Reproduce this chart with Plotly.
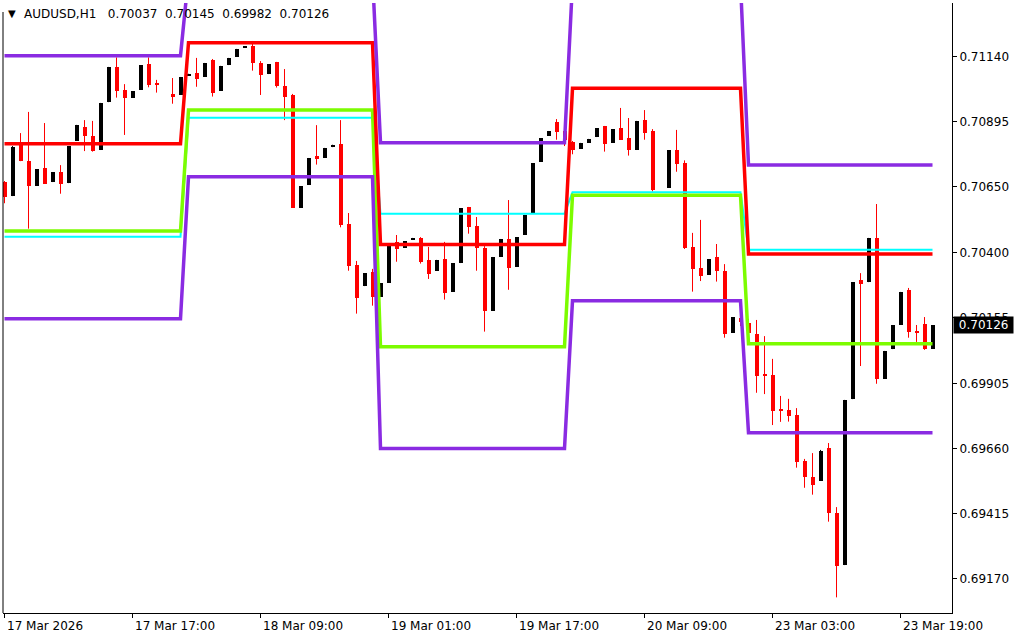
import plotly.graph_objects as go

# ---------------- data ----------------
symbol_header = "AUDUSD,H1\u00a0\u00a0\u00a00.70037\u00a0\u00a00.70145\u00a0\u00a00.69982\u00a0\u00a00.70126"
last_price = 0.70126

time_labels = ["17 Mar 2026", "17 Mar 17:00", "18 Mar 09:00", "19 Mar 01:00",
               "19 Mar 17:00", "20 Mar 09:00", "23 Mar 03:00", "23 Mar 19:00"]
time_label_bars = [0, 16, 32, 48, 64, 80, 96, 112]

price_tick_vals = [0.71140, 0.70895, 0.70650, 0.70400, 0.70155,
                   0.69905, 0.69660, 0.69415, 0.69170]
price_tick_text = ["0.71140", "0.70895", "0.70650", "0.70400", "0.70155",
                   "0.69905", "0.69660", "0.69415", "0.69170"]

opens = [
    0.70667, 0.70616, 0.70806, 0.70747, 0.70653, 0.70720, 0.70668, 0.70705, 0.70665, 0.70823,
    0.70875, 0.70841, 0.70789, 0.70971, 0.71102, 0.71015, 0.70986, 0.71016, 0.71113, 0.71042,
    0.71022, 0.71000, 0.70997, 0.71071, 0.71079, 0.71065, 0.71128, 0.71012, 0.71110, 0.71141,
    0.71175, 0.71181, 0.71117, 0.71075, 0.71121, 0.71030, 0.70996, 0.70570, 0.70657, 0.70765,
    0.70759, 0.70801, 0.70811, 0.70508, 0.70354, 0.70275, 0.70328, 0.70234, 0.70287, 0.70441,
    0.70419, 0.70449, 0.70456, 0.70373, 0.70331, 0.70376, 0.70253, 0.70362, 0.70573, 0.70501,
    0.70418, 0.70181, 0.70385, 0.70452, 0.70347, 0.70468, 0.70551, 0.70744, 0.70842, 0.70894,
    0.70860, 0.70818, 0.70793, 0.70816, 0.70838, 0.70879, 0.70816, 0.70871, 0.70833, 0.70789,
    0.70901, 0.70860, 0.70652, 0.70646, 0.70788, 0.70739, 0.70423, 0.70342, 0.70317, 0.70384,
    0.70330, 0.70098, 0.70153, 0.70135, 0.70093, 0.69938, 0.69938, 0.69805, 0.69806, 0.69787,
    0.69614, 0.69553, 0.69539, 0.69662, 0.69417, 0.69221, 0.69849, 0.70296, 0.70291, 0.70456,
    0.69924, 0.70036, 0.70128, 0.70259, 0.70104, 0.70131, 0.70037]

highs = [
    0.70671, 0.70803, 0.70852, 0.70932, 0.70716, 0.70890, 0.70705, 0.70731, 0.70803, 0.70883,
    0.70901, 0.70898, 0.70966, 0.71102, 0.71138, 0.71037, 0.71011, 0.71109, 0.71138, 0.71053,
    0.71037, 0.71060, 0.71064, 0.71076, 0.71136, 0.71117, 0.71132, 0.71106, 0.71136, 0.71170,
    0.71178, 0.71200, 0.71124, 0.71113, 0.71121, 0.71094, 0.71000, 0.70652, 0.70758, 0.70882,
    0.70796, 0.70808, 0.70901, 0.70550, 0.70369, 0.70323, 0.70339, 0.70285, 0.70429, 0.70467,
    0.70444, 0.70456, 0.70459, 0.70422, 0.70373, 0.70441, 0.70361, 0.70569, 0.70573, 0.70535,
    0.70425, 0.70384, 0.70452, 0.70599, 0.70459, 0.70543, 0.70739, 0.70833, 0.70860, 0.70905,
    0.70883, 0.70822, 0.70815, 0.70830, 0.70871, 0.70879, 0.70867, 0.70947, 0.70909, 0.70898,
    0.70939, 0.70867, 0.70675, 0.70788, 0.70864, 0.70749, 0.70475, 0.70524, 0.70376, 0.70433,
    0.70357, 0.70157, 0.70171, 0.70150, 0.70146, 0.70085, 0.69999, 0.69859, 0.69848, 0.69813,
    0.69621, 0.69643, 0.69655, 0.69681, 0.69439, 0.69844, 0.70289, 0.70323, 0.70456, 0.70584,
    0.70029, 0.70127, 0.70252, 0.70267, 0.70127, 0.70157, 0.70126]

lows = [
    0.70587, 0.70614, 0.70746, 0.70491, 0.70652, 0.70660, 0.70667, 0.70623, 0.70663, 0.70822,
    0.70784, 0.70782, 0.70788, 0.70969, 0.70986, 0.70845, 0.70985, 0.71015, 0.71025, 0.71005,
    0.71007, 0.70963, 0.70996, 0.71071, 0.71027, 0.71064, 0.70990, 0.71011, 0.71109, 0.71140,
    0.71175, 0.71088, 0.70996, 0.71075, 0.71024, 0.70901, 0.70570, 0.70569, 0.70656, 0.70733,
    0.70758, 0.70799, 0.70496, 0.70332, 0.70170, 0.70274, 0.70200, 0.70233, 0.70286, 0.70366,
    0.70418, 0.70448, 0.70359, 0.70301, 0.70331, 0.70223, 0.70252, 0.70361, 0.70472, 0.70332,
    0.70102, 0.70180, 0.70384, 0.70260, 0.70346, 0.70467, 0.70550, 0.70743, 0.70841, 0.70827,
    0.70803, 0.70772, 0.70792, 0.70815, 0.70837, 0.70782, 0.70815, 0.70827, 0.70767, 0.70788,
    0.70827, 0.70631, 0.70637, 0.70645, 0.70706, 0.70414, 0.70253, 0.70293, 0.70316, 0.70291,
    0.70079, 0.70097, 0.70123, 0.70085, 0.69871, 0.69866, 0.69749, 0.69761, 0.69762, 0.69588,
    0.69512, 0.69486, 0.69538, 0.69384, 0.69098, 0.69220, 0.69847, 0.69972, 0.70289, 0.69905,
    0.69923, 0.70036, 0.70127, 0.70079, 0.70063, 0.70033, 0.70037]

closes = [
    0.70612, 0.70799, 0.70748, 0.70653, 0.70716, 0.70661, 0.70705, 0.70661, 0.70803, 0.70883,
    0.70842, 0.70786, 0.70966, 0.71102, 0.71012, 0.70986, 0.71011, 0.71109, 0.71034, 0.71036,
    0.71022, 0.70990, 0.71064, 0.71076, 0.71058, 0.71117, 0.71005, 0.71106, 0.71136, 0.71170,
    0.71178, 0.71118, 0.71073, 0.71113, 0.71030, 0.70990, 0.70570, 0.70652, 0.70758, 0.70755,
    0.70796, 0.70808, 0.70506, 0.70351, 0.70230, 0.70323, 0.70234, 0.70285, 0.70429, 0.70415,
    0.70444, 0.70456, 0.70366, 0.70321, 0.70373, 0.70249, 0.70361, 0.70569, 0.70498, 0.70419,
    0.70181, 0.70384, 0.70452, 0.70343, 0.70459, 0.70543, 0.70739, 0.70833, 0.70860, 0.70857,
    0.70826, 0.70789, 0.70815, 0.70830, 0.70871, 0.70812, 0.70867, 0.70827, 0.70789, 0.70898,
    0.70854, 0.70636, 0.70652, 0.70788, 0.70736, 0.70419, 0.70340, 0.70313, 0.70376, 0.70332,
    0.70093, 0.70157, 0.70138, 0.70097, 0.69935, 0.69936, 0.69803, 0.69803, 0.69784, 0.69611,
    0.69554, 0.69524, 0.69651, 0.69418, 0.69218, 0.69844, 0.70289, 0.70283, 0.70456, 0.69922,
    0.70029, 0.70127, 0.70252, 0.70102, 0.70099, 0.70037, 0.70126]

# daily levels (one value per trading day) and the bar where each day starts
day_start_bars = [0, 23, 47, 71, 93]
level_upper_band = [0.711444, 0.714456, 0.708157, 0.714198, 0.707314]   # purple
level_red = [0.708119, 0.711935, 0.704311, 0.710212, 0.703952]          # red
level_cyan = [0.704606, 0.709101, 0.705474, 0.706283, 0.704114]         # cyan
level_green = [0.704821, 0.709392, 0.700450, 0.706170, 0.700563]        # green
level_lower_band = [0.701507, 0.706872, 0.696605, 0.702184, 0.697201]   # purple

# ---------------- build ----------------
n = len(opens)
bars = list(range(n))

def per_bar(levels):
    out = []
    for i in bars:
        d = 0
        for j, s in enumerate(day_start_bars):
            if i >= s:
                d = j
        out.append(levels[d])
    return out

UP, DOWN, DOJI = "#000000", "#FF0000", "#FFFFFF"
colors = []
for o, c in zip(opens, closes):
    colors.append(UP if c > o else (DOWN if c < o else DOJI))

body_base = [min(o, c) for o, c in zip(opens, closes)]
body_len = [max(abs(c - o), 0.00004) for o, c in zip(opens, closes)]

fig = go.Figure()

for col in (DOJI, UP, DOWN):
    wx, wy = [], []
    for i in bars:
        if colors[i] == col:
            wx += [i, i, None]
            wy += [lows[i], highs[i], None]
    fig.add_trace(go.Scatter(x=wx, y=wy, mode="lines",
                             line=dict(color=col, width=1),
                             hoverinfo="skip", showlegend=False))

fig.add_trace(go.Bar(x=bars, y=body_len, base=body_base, width=0.5,
                     marker=dict(color=colors, line=dict(width=0)),
                     hoverinfo="skip", showlegend=False))

for levels, col, w in [(level_cyan, "#00FFFF", 2),
                       (level_green, "#7CFC00", 3.5),
                       (level_red, "#FF0000", 3.5),
                       (level_upper_band, "#8A2BE2", 3.5),
                       (level_lower_band, "#8A2BE2", 3.5)]:
    fig.add_trace(go.Scatter(x=bars, y=per_bar(levels), mode="lines",
                             line=dict(color=col, width=w),
                             hoverinfo="skip", showlegend=False))

FONT = "DejaVu Sans"
W, H = 1024, 640
ML, MR, MT, MB = 3, 72, 3, 27
plot_w = W - ML - MR
plot_h = H - MT - MB

x0 = -0.1875
x1 = x0 + plot_w / 8.0
y_top = 0.713435
y_bot = 0.690389

annotations = []
for lab, b in zip(time_labels, time_label_bars):
    annotations.append(dict(x=b, xref="x", y=-13 / plot_h, yref="paper",
                            text=lab, showarrow=False, xanchor="left",
                            yanchor="middle", font=dict(family=FONT, size=12, color="#000")))
annotations.append(dict(x=3 / plot_w, xref="paper", y=(plot_h - 10) / plot_h, yref="paper",
                        text="\u25bc", showarrow=False, xanchor="left", yanchor="middle",
                        font=dict(family=FONT, size=10, color="#000")))
annotations.append(dict(x=19 / plot_w, xref="paper", y=(plot_h - 10.5) / plot_h, yref="paper",
                        text=symbol_header, showarrow=False, xanchor="left", yanchor="middle",
                        font=dict(family=FONT, size=12, color="#000")))
annotations.append(dict(x=1 + 1 / plot_w, xref="paper", y=last_price, yref="y",
                        text="\u00a0" + f"{last_price:.5f}" + "\u00a0", showarrow=False,
                        xanchor="left", yanchor="middle", bgcolor="#000000", borderpad=1,
                        font=dict(family=FONT, size=12, color="#FFFFFF")))

fig.update_layout(
    width=W, height=H,
    margin=dict(l=ML, r=MR, t=MT, b=MB, pad=0),
    paper_bgcolor="#FFFFFF", plot_bgcolor="#FFFFFF",
    showlegend=False,
    annotations=annotations,
    shapes=[dict(type="line", xref="paper", yref="paper", x0=0, x1=0,
                 y0=0, y1=(plot_h - 9) / plot_h, line=dict(color="#000", width=1))],
    xaxis=dict(range=[x0, x1], showgrid=False, zeroline=False, showline=True,
               linecolor="#000", linewidth=1, ticks="outside", ticklen=4,
               tickcolor="#000", tickvals=time_label_bars, showticklabels=False,
               fixedrange=True),
    yaxis=dict(range=[y_bot, y_top], side="right", showgrid=False, zeroline=False,
               showline=True, linecolor="#000", linewidth=1, ticks="outside",
               ticklen=4, tickcolor="#000", tickvals=price_tick_vals,
               ticktext=price_tick_text, tickfont=dict(family=FONT, size=12, color="#000"),
               fixedrange=True),
    bargap=0,
)

fig.write_html("out.html", config={"displayModeBar": False},
               post_script="document.body.style.margin='0';")
